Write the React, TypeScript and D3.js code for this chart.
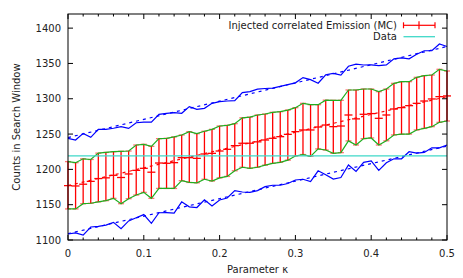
import React from "react";
import * as d3 from "d3";

const kappa = [0,0.01,0.02,0.03,0.04,0.05,0.06,0.07,0.08,0.09,0.1,0.11,0.12,0.13,0.14,0.15,0.16,0.17,0.18,0.19,0.2,0.21,0.22,0.23,0.24,0.25,0.26,0.27,0.28,0.29,0.3,0.31,0.32,0.33,0.34,0.35,0.36,0.37,0.38,0.39,0.4,0.41,0.42,0.43,0.44,0.45,0.46,0.47,0.48,0.49,0.5];

const mcCenter = [1177,1176.5,1179,1183,1187,1188,1191.6,1188.5,1193.5,1198.6,1201.5,1196,1209,1208.6,1209.5,1216.6,1216.6,1215.6,1221.8,1222.7,1226,1228.4,1233.6,1237,1237,1239,1241.6,1244,1246.3,1249.6,1253.4,1255.8,1255.8,1260,1262.8,1260.5,1261.4,1277,1271.5,1278,1279,1272.3,1277,1285.5,1287.4,1290.2,1293.5,1296.8,1299.7,1303,1304];

const mcUpper = [1211,1209.5,1215,1214,1223,1224,1225,1225.6,1226,1234.5,1235.5,1232.6,1243.5,1244,1246,1248.7,1253.4,1250.6,1254,1256.7,1261.4,1262.4,1264.7,1273,1274,1277,1278.4,1280.8,1281.7,1284,1287.4,1293.5,1291.6,1291.6,1298,1297.8,1297.8,1312.4,1312.4,1313.8,1313.8,1310,1313.8,1321.8,1324.2,1324.2,1330.3,1332.7,1333.6,1341.7,1339.3];

const mcLower = [1144,1144,1151.4,1152,1154,1155.7,1159,1151.4,1158.5,1163.7,1167.5,1159,1173,1173,1173,1184,1181.5,1181,1186,1183.5,1188,1190,1198,1203,1201.5,1203,1206,1208.5,1210,1213,1219,1221,1218.5,1229,1227.4,1222.7,1223.7,1240.3,1234.5,1243.5,1244.5,1234.5,1240.5,1248.7,1249.8,1250,1255.8,1258,1260.5,1266.6,1268.5];

const outerUpper = [1244,1241.6,1251,1245.4,1256.7,1256.7,1258.2,1260.4,1258,1266,1267,1267,1278,1279.4,1280.3,1279.4,1288.8,1285,1286.4,1293.5,1295.9,1296.8,1297.3,1308.6,1310,1313.5,1314.5,1315,1317.5,1320,1322.5,1330,1327,1322,1334,1336,1333.6,1346,1349,1347.8,1348,1347,1348,1356.5,1358,1356.5,1363,1368,1368,1377.5,1374];

const outerLower = [1108.5,1110,1107,1118.4,1119.4,1121,1125,1116,1127,1131.6,1136,1123.6,1138.6,1138.7,1138,1154,1147,1146,1157,1148.3,1156.6,1159.5,1170,1168,1167.5,1170,1175.5,1177.5,1177.5,1180,1185,1186,1182.6,1198,1192.5,1186.2,1188.5,1206.2,1197.2,1210,1212,1198.6,1209.3,1215,1215,1225,1223,1224,1230.5,1230.4,1234.6];

const fitKappa = [0, 0.5];
const fitCenter = [1177, 1303];
const fitUpper = [1245, 1374];
const fitLower = [1109, 1233];

const dataValue = 1219;

const xTicks = [0, 0.1, 0.2, 0.3, 0.4, 0.5];
const xMinorTicks = [0.02,0.04,0.06,0.08,0.12,0.14,0.16,0.18,0.22,0.24,0.26,0.28,0.32,0.34,0.36,0.38,0.42,0.44,0.46,0.48];
const yTicks = [1100, 1150, 1200, 1250, 1300, 1350, 1400];

const FONT = "'DejaVu Sans', Verdana, sans-serif";
const RED = "#ff0000";
const GREEN = "#1fae1f";
const BLUE = "#0000ff";
const CYAN = "#3fd8c8";

export default function App() {
  const W = 463, H = 278;
  const left = 68, right = 447, top = 14, bottom = 240;
  const x = d3.scaleLinear().domain([0, 0.5]).range([left, right]);
  const y = d3.scaleLinear().domain([1100, 1420]).range([bottom, top]);

  const line = (vals: number[], ks: number[] = kappa) =>
    d3.line<number>().x((_, i) => x(ks[i])).y((v) => y(v))(vals) || "";

  return (
    <div style={{ position: "absolute", left: 0, top: 0 }}>
      <svg width={W} height={H} style={{ display: "block", fontFamily: FONT }}>
        <rect width={W} height={H} fill="#fff" />
        {/* error bars */}
        <g stroke={RED} strokeWidth={1.3} fill="none">
          {kappa.map((k, i) => {
            const cx = x(k);
            return (
              <g key={i}>
                <line x1={cx} x2={cx} y1={y(mcLower[i])} y2={y(mcUpper[i])} />
                <line x1={cx - 3} x2={cx + 3} y1={y(mcLower[i])} y2={y(mcLower[i])} strokeOpacity={0.55} />
                <line x1={cx - 3} x2={cx + 3} y1={y(mcUpper[i])} y2={y(mcUpper[i])} strokeOpacity={0.55} />
                <line x1={cx - 4} x2={cx + 4} y1={y(mcCenter[i])} y2={y(mcCenter[i])} />
              </g>
            );
          })}
        </g>
        <path d={line(mcUpper)} stroke={GREEN} strokeWidth={1.2} fill="none" />
        <path d={line(mcLower)} stroke={GREEN} strokeWidth={1.2} fill="none" />
        <path d={line(outerUpper)} stroke={BLUE} strokeWidth={1.2} fill="none" />
        <path d={line(outerLower)} stroke={BLUE} strokeWidth={1.2} fill="none" />
        <path d={line(fitUpper, fitKappa)} stroke={BLUE} strokeWidth={1.2} strokeDasharray="3,4" fill="none" />
        <path d={line(fitLower, fitKappa)} stroke={BLUE} strokeWidth={1.2} strokeDasharray="3,4" fill="none" />
        <path d={line(fitCenter, fitKappa)} stroke={RED} strokeWidth={1.2} strokeDasharray="3,4" fill="none" />
        <line x1={left} x2={right} y1={y(dataValue)} y2={y(dataValue)} stroke={CYAN} strokeWidth={1.3} />

        {/* frame */}
        <rect x={left} y={top} width={right - left} height={bottom - top} fill="none" stroke="#000" strokeWidth={1} />
        <g stroke="#000" strokeWidth={1}>
          {xTicks.map((t) => (
            <g key={"xt" + t}>
              <line x1={x(t)} x2={x(t)} y1={bottom} y2={bottom - 5} />
              <line x1={x(t)} x2={x(t)} y1={top} y2={top + 5} />
            </g>
          ))}
          {xMinorTicks.map((t) => (
            <g key={"xm" + t}>
              <line x1={x(t)} x2={x(t)} y1={bottom} y2={bottom - 2.5} />
              <line x1={x(t)} x2={x(t)} y1={top} y2={top + 2.5} />
            </g>
          ))}
          {yTicks.map((t) => (
            <g key={"yt" + t}>
              <line x1={left} x2={left + 5} y1={y(t)} y2={y(t)} />
              <line x1={right} x2={right - 5} y1={y(t)} y2={y(t)} />
            </g>
          ))}
        </g>
        <g fontSize={10} fill="#222">
          {xTicks.map((t) => (
            <text key={"xl" + t} x={x(t)} y={256.5} textAnchor="middle">{String(t)}</text>
          ))}
          {yTicks.map((t) => (
            <text key={"yl" + t} x={61} y={y(t) + 3.6} textAnchor="end">{String(t)}</text>
          ))}
          <text x={(left + right) / 2} y={273} textAnchor="middle">Parameter κ</text>
          <text transform={`translate(20,${(top + bottom) / 2}) rotate(-90)`} textAnchor="middle">Counts in Search Window</text>
          {/* legend */}
          <text x={397} y={28.8} textAnchor="end">Injected correlated Emission (MC)</text>
          <text x={397} y={40.3} textAnchor="end">Data</text>
        </g>
        <g stroke={RED} strokeWidth={1.2}>
          <line x1={403.5} x2={435} y1={25.3} y2={25.3} />
          <line x1={403.5} x2={403.5} y1={22.3} y2={28.3} />
          <line x1={435} x2={435} y1={22.3} y2={28.3} />
          <line x1={419} x2={419} y1={21.3} y2={29.3} />
        </g>
        <line x1={403.5} x2={435} y1={36.7} y2={36.7} stroke={CYAN} strokeWidth={1.3} />
      </svg>
    </div>
  );
}
